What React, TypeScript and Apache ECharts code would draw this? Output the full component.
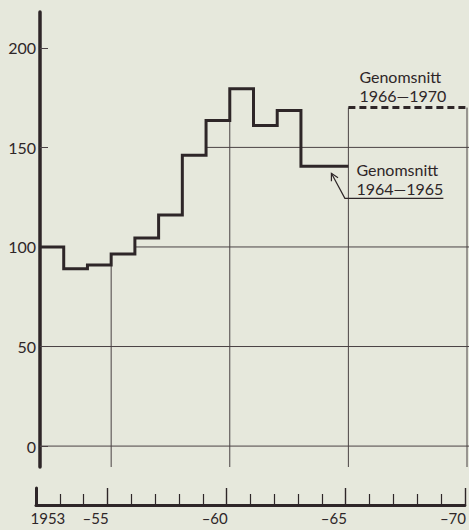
import { useEffect, useRef } from "react";
import * as echarts from "echarts";

// ---- data ----
const YEARS = [1953, 1954, 1955, 1956, 1957, 1958, 1959, 1960, 1961, 1962, 1963, 1964, 1965];
const VALUES = [100, 89, 91, 96.5, 104.5, 116, 146, 163.5, 179.5, 161, 168.5, 140.5, 140.5];
const AVG_YEARS = [1966, 1967, 1968, 1969, 1970];
const AVG_VALUE = 170;
const PERIOD_END = 1971;

const Y_TICKS = [0, 50, 100, 150, 200];
const GRID_LEVELS = [0, 50, 100, 150];
const GRID_YEARS = [1956, 1961, 1966, 1971];
const X_MINOR_TICKS = [1954, 1955, 1957, 1958, 1959, 1960, 1962, 1963, 1964, 1965, 1967, 1968, 1969, 1970];
const X_MAJOR_TICKS = [1953, 1956, 1961, 1966, 1971];
const X_LABEL_YEARS = [1953, 1955, 1960, 1965, 1970];
const X_LABELS = ["1953", "–55", "–60", "–65", "–70"];
const NOTE_AVG_6670 = ["Genomsnitt", "1966—1970"];
const NOTE_AVG_6465 = ["Genomsnitt", "1964—1965"];

const INK = "#2e2628";
const THIN = "#4a4244";
const PAPER = "#e6e8dc";
const FONT = "Lato, 'DejaVu Sans', sans-serif";
const Y_MIN = -10.5;
const Y_MAX = 218;

function valueAt(year: number): number | null {
  const i = YEARS.indexOf(year);
  if (i >= 0) return VALUES[i];
  if (AVG_YEARS.indexOf(year) >= 0) return AVG_VALUE;
  return null;
}

export default function App() {
  const ref = useRef<HTMLDivElement>(null);

  useEffect(() => {
    if (!ref.current) return;
    const chart = echarts.init(ref.current, null, { renderer: "svg" });

    const stepData: number[][] = YEARS.map((y, i) => [y, VALUES[i]]);
    stepData.push([AVG_YEARS[0], VALUES[VALUES.length - 1]]);
    const avgData = [
      [AVG_YEARS[0], AVG_VALUE],
      [PERIOD_END, AVG_VALUE],
    ];
    const allYears = [...YEARS, ...AVG_YEARS];

    const gridRender = (_params: any, api: any) => {
      const children: any[] = [];
      const xEnd = api.coord([PERIOD_END, 0])[0] + 2;
      GRID_LEVELS.forEach((lv) => {
        const start = allYears.find((y) => (valueAt(y) as number) > lv);
        if (start === undefined) return;
        const p = api.coord([start, lv]);
        children.push({
          type: "line",
          shape: { x1: p[0], y1: p[1], x2: xEnd, y2: p[1] },
          style: { stroke: THIN, lineWidth: 1 },
        });
      });
      GRID_YEARS.forEach((gy) => {
        const before = valueAt(gy - 1);
        const after = valueAt(gy);
        const top = Math.max(before ?? -Infinity, after ?? -Infinity);
        const p1 = api.coord([gy, top]);
        const p2 = api.coord([gy, Y_MIN]);
        children.push({
          type: "line",
          shape: { x1: p1[0], y1: p1[1], x2: p2[0], y2: p2[1] },
          style: { stroke: THIN, lineWidth: 1 },
        });
      });
      return { type: "group", children };
    };

    const textLine = (text: string, x: number, y: number) => ({
      type: "text",
      style: {
        text,
        x,
        y,
        fill: INK,
        font: `16px ${FONT}`,
        textAlign: "left",
        textVerticalAlign: "middle",
        verticalAlign: "middle",
      },
    });

    const noteRender = (_params: any, api: any) => {
      const a = api.coord([AVG_YEARS[0], AVG_VALUE]);
      const b = api.coord([AVG_YEARS[0], VALUES[VALUES.length - 1]]);
      const tip = [b[0] - 17, b[1] + 7];
      const bend = [b[0] - 3.5, b[1] + 32];
      const uEnd = [b[0] + 95, b[1] + 32];
      const dx = bend[0] - tip[0];
      const dy = bend[1] - tip[1];
      const len = Math.hypot(dx, dy);
      const ux = dx / len;
      const uy = dy / len;
      const ang = (28 * Math.PI) / 180;
      const al = 8;
      const rot = (s: number) => [
        tip[0] + al * (ux * Math.cos(s * ang) - uy * Math.sin(s * ang)),
        tip[1] + al * (ux * Math.sin(s * ang) + uy * Math.cos(s * ang)),
      ];
      const h1 = rot(1);
      const h2 = rot(-1);
      return {
        type: "group",
        children: [
          textLine(NOTE_AVG_6670[0], a[0] + 11, a[1] - 31),
          textLine(NOTE_AVG_6670[1], a[0] + 11, a[1] - 12),
          textLine(NOTE_AVG_6465[0], b[0] + 8, b[1] + 3),
          textLine(NOTE_AVG_6465[1], b[0] + 8, b[1] + 22),
          {
            type: "polyline",
            shape: { points: [uEnd, bend, tip] },
            style: { stroke: INK, lineWidth: 1.2, fill: null },
          },
          {
            type: "polyline",
            shape: { points: [h1, tip, h2] },
            style: { stroke: INK, lineWidth: 1.2, fill: null },
          },
        ],
      };
    };

    const labelFor = (v: number) => {
      const i = X_LABEL_YEARS.findIndex((y) => Math.abs(y + 0.5 - v) < 0.01);
      return i >= 0 ? X_LABELS[i] : "";
    };

    chart.setOption({
      animation: false,
      backgroundColor: PAPER,
      textStyle: { fontFamily: FONT },
      grid: [
        { left: 40, right: 2, top: 12, bottom: 63 },
        { left: 36, right: 3, top: 488, height: 17 },
      ],
      xAxis: [
        { type: "value", gridIndex: 0, min: 1953, max: PERIOD_END, show: false },
        {
          type: "value",
          gridIndex: 1,
          min: 1953,
          max: PERIOD_END,
          position: "bottom",
          axisLine: { show: true, lineStyle: { color: INK, width: 3 } },
          axisTick: {
            show: true,
            inside: true,
            length: 11,
            customValues: X_MINOR_TICKS,
            lineStyle: { color: INK, width: 1.2 },
          },
          axisLabel: {
            show: true,
            customValues: X_LABEL_YEARS.map((y) => y + 0.5),
            formatter: labelFor,
            color: INK,
            fontSize: 15,
            fontFamily: FONT,
            margin: 5,
          },
          splitLine: { show: false },
        },
        {
          type: "value",
          gridIndex: 1,
          min: 1953,
          max: PERIOD_END,
          position: "bottom",
          axisLine: { show: false },
          axisTick: {
            show: true,
            inside: true,
            length: 17,
            customValues: X_MAJOR_TICKS,
            lineStyle: { color: INK, width: 1.4 },
          },
          axisLabel: { show: false },
          splitLine: { show: false },
        },
      ],
      yAxis: [
        {
          type: "value",
          gridIndex: 0,
          min: Y_MIN,
          max: Y_MAX,
          axisLine: { show: true, lineStyle: { color: INK, width: 3.5 } },
          axisTick: {
            show: true,
            inside: true,
            length: 8,
            customValues: Y_TICKS,
            lineStyle: { color: THIN, width: 1 },
          },
          axisLabel: {
            show: true,
            customValues: Y_TICKS,
            color: INK,
            fontSize: 16,
            fontFamily: FONT,
            margin: 4,
          },
          splitLine: { show: false },
        },
        {
          type: "value",
          gridIndex: 1,
          min: 0,
          max: 1,
          axisLine: { show: true, lineStyle: { color: INK, width: 3 } },
          axisTick: { show: false },
          axisLabel: { show: false },
          splitLine: { show: false },
        },
      ],
      series: [
        {
          type: "custom",
          name: "grid",
          xAxisIndex: 0,
          yAxisIndex: 0,
          data: [[1953, 0]],
          renderItem: gridRender,
          z: 1,
          silent: true,
        },
        {
          type: "line",
          name: "index",
          xAxisIndex: 0,
          yAxisIndex: 0,
          step: "end",
          data: stepData,
          showSymbol: false,
          symbol: "none",
          lineStyle: { color: INK, width: 3, cap: "butt", join: "miter" },
          z: 3,
        },
        {
          type: "line",
          name: "avg",
          xAxisIndex: 0,
          yAxisIndex: 0,
          data: avgData,
          showSymbol: false,
          symbol: "none",
          clip: false,
          lineStyle: { color: INK, width: 3, type: [7, 4], cap: "butt" },
          z: 3,
        },
        {
          type: "custom",
          name: "notes",
          xAxisIndex: 0,
          yAxisIndex: 0,
          data: [[1966, 170]],
          renderItem: noteRender,
          z: 4,
          silent: true,
        },
      ],
    });

    return () => chart.dispose();
  }, []);

  return (
    <div
      ref={ref}
      style={{ position: "absolute", left: 0, top: 0, width: 469, height: 530, background: PAPER }}
    />
  );
}
